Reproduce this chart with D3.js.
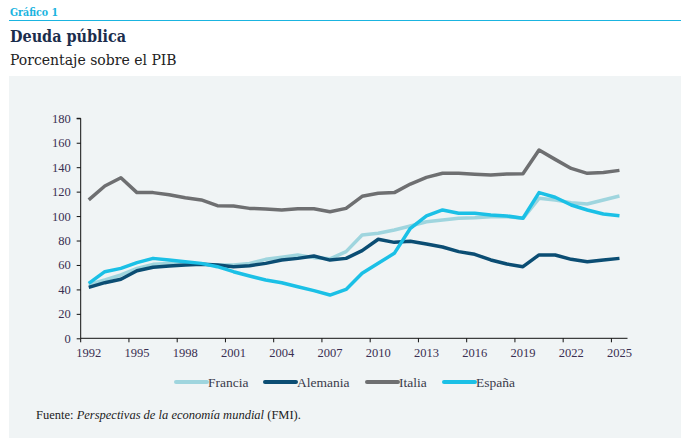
<!DOCTYPE html>
<html>
<head>
  <meta charset="utf-8">
  <style>
    body { margin: 0; background: #fff; }
    svg { display: block; }
    text { font-family: "Liberation Serif", "Times New Roman", serif; }
  </style>
</head>
<body>
  <svg></svg>
  <script src="https://d3js.org/d3.v7.min.js"></script>
  <script>
    let width = 693, height = 448;

    // years 1992 - 2025
    let years = d3.range(1992, 2026);
    let tickYears = [1992, 1995, 1998, 2001, 2004, 2007, 2010, 2013, 2016, 2019, 2022, 2025];
    let yTicks = [0, 20, 40, 60, 80, 100, 120, 140, 160, 180];

    let francia = [44, 47.7, 51.8, 57.2, 60.5, 61.3, 61.3, 60.8, 60, 60, 61.3, 64.6, 66.3, 68.2, 66, 65,
                   70.9, 84.5, 85.9, 88.6, 91.9, 95.4, 96.8, 98.2, 98.7, 99.5, 99.5, 98.2, 114.5, 113.2, 111, 109.9, 113.2, 116.4];
    let alemania = [41.7, 45.5, 48.3, 55.3, 58.1, 59.2, 60, 60.5, 60, 58.6, 59.4, 61.3, 64, 65.4, 67.3, 64,
                    65.4, 71.7, 81, 78.5, 79.4, 77.2, 74.7, 70.9, 68.7, 64.1, 60.8, 58.6, 68.2, 68.2, 64.6, 62.7, 64.1, 65.4];
    let italia = [113.2, 124.6, 131.4, 119.2, 119.2, 117.5, 115, 113.2, 108.5, 108.2, 106.3, 105.8, 105, 106, 106, 103.6,
                  106.3, 116.2, 118.6, 119.2, 126.2, 131.7, 135, 135, 134.3, 133.6, 134.4, 134.6, 154, 146.4, 139, 135, 135.6, 137.4];
    let espana = [45, 54.5, 57.2, 61.9, 65.4, 64.1, 62.7, 61.3, 58.6, 54.5, 51, 47.7, 45.5, 42.2, 39, 35.4,
                  40, 53.2, 61.4, 69.5, 90, 100.1, 105, 102.3, 102.3, 100.9, 100.1, 98.2, 119.2, 115.4, 109.1, 105, 101.7, 100.3];

    let seriesNames = ["Francia", "Alemania", "Italia", "España"];
    let seriesColors = ["#9fd5de", "#0b4d73", "#6e6f71", "#1bc0e6"];
    let seriesValues = [francia, alemania, italia, espana];

    let svg = d3.select("svg")
        .attr("width", width)
        .attr("height", height);

    // header
    svg.append("text")
        .attr("x", 10).attr("y", 16)
        .style("font-family", "'DejaVu Serif Condensed', 'DejaVu Serif', serif")
        .style("font-size", "10.5px").style("font-weight", "bold")
        .attr("fill", "#1ab4e0")
        .text("Gráfico 1");
    svg.append("line")
        .attr("x1", 9).attr("x2", 681).attr("y1", 20.5).attr("y2", 20.5)
        .attr("stroke", "#1ab4e0").attr("stroke-width", 1.2);
    svg.append("text")
        .attr("x", 10).attr("y", 42)
        .style("font-family", "'DejaVu Serif Condensed', 'DejaVu Serif', serif")
        .style("font-size", "16px").style("font-weight", "bold")
        .attr("fill", "#1b2d4c")
        .text("Deuda pública");
    svg.append("text")
        .attr("x", 10).attr("y", 65)
        .style("font-family", "'DejaVu Serif', serif")
        .style("font-size", "14px")
        .attr("fill", "#222")
        .text("Porcentaje sobre el PIB");

    // panel
    svg.append("rect")
        .attr("x", 9).attr("y", 76).attr("width", 672).attr("height", 362)
        .attr("fill", "#f0f4f5");

    let x = d3.scaleBand().domain(years).range([80.7, 627.5]).padding(0);
    let y = d3.scaleLinear().domain([0, 180]).range([338.3, 118.3]);

    let g = svg.append("g");

    // y axis
    let yAxis = g.append("g")
        .attr("transform", "translate(80.7,0)")
        .call(d3.axisLeft(y).tickValues(yTicks).tickSize(4).tickPadding(6));
    yAxis.attr("font-family", null);
    yAxis.select(".domain").attr("stroke", "#111").attr("d", "M-4," + y(180) + "H0V" + y(0));
    yAxis.selectAll(".tick line").attr("stroke", "#111");
    yAxis.selectAll("text")
        .style("font-family", "'Liberation Serif', serif")
        .style("font-size", "12.5px").attr("fill", "#3a2f52");

    // x axis: ticks at band edges, labels at band centres
    let xAxis = g.append("g").attr("transform", "translate(0," + y(0) + ")");
    xAxis.append("line")
        .attr("x1", 80.7).attr("x2", 627.5)
        .attr("stroke", "#111");
    xAxis.selectAll(".xt")
        .data(tickYears)
        .enter().append("line")
        .attr("x1", d => x(d)).attr("x2", d => x(d))
        .attr("y1", 0).attr("y2", 4)
        .attr("stroke", "#111");
    xAxis.selectAll(".xl")
        .data(tickYears)
        .enter().append("text")
        .attr("x", d => x(d) + x.bandwidth() / 2)
        .attr("y", 19)
        .attr("text-anchor", "middle")
        .style("font-family", "'Liberation Serif', serif")
        .style("font-size", "12.5px").attr("fill", "#3a2f52")
        .text(d => d);

    // lines
    let line = d3.line()
        .x((d, i) => x(years[i]) + x.bandwidth() / 2)
        .y(d => y(d));

    // draw order: Italia, Francia, Alemania, España
    [2, 0, 1, 3].forEach(k => {
      g.append("path")
          .datum(seriesValues[k])
          .attr("d", line)
          .attr("fill", "none")
          .attr("stroke", seriesColors[k])
          .attr("stroke-width", 3.5)
          .attr("stroke-linejoin", "round");
    });

    // legend
    let legendX = [176, 265, 367, 444];
    let legend = svg.append("g").attr("transform", "translate(0,382)");
    seriesNames.forEach((name, k) => {
      legend.append("line")
          .attr("x1", legendX[k]).attr("x2", legendX[k] + 31)
          .attr("stroke", seriesColors[k])
          .attr("stroke-width", 4)
          .attr("stroke-linecap", "round");
      legend.append("text")
          .attr("x", legendX[k] + 32)
          .attr("y", 4.5)
          .style("font-family", "'Liberation Serif', serif")
          .style("font-size", "13.5px").attr("fill", "#3a3a4a")
          .text(name);
    });

    // source
    let src = svg.append("text")
        .attr("x", 36).attr("y", 419)
        .style("font-family", "'Liberation Serif', serif")
        .style("font-size", "12.5px").attr("fill", "#222");
    src.append("tspan").text("Fuente: ");
    src.append("tspan").style("font-style", "italic").text("Perspectivas de la economía mundial");
    src.append("tspan").text(" (FMI).");
  </script>
</body>
</html>
